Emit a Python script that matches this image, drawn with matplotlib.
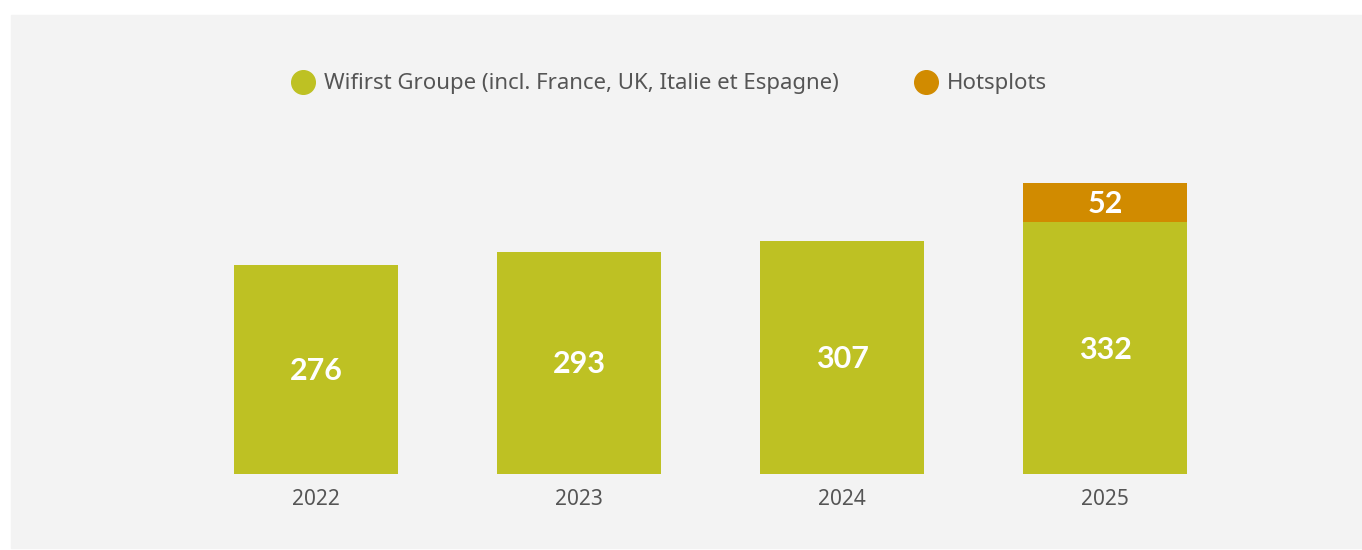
import matplotlib.pyplot as plt
from matplotlib.patches import Rectangle
from matplotlib.lines import Line2D

years = ['2022', '2023', '2024', '2025']
wifirst = [276, 293, 307, 332]
hotsplots = [0, 0, 0, 52]

green = '#bec123'
orange = '#d18b00'
grey_bg = '#f3f3f3'
text_col = '#555555'

plt.rcParams['font.family'] = ['Noto Sans', 'DejaVu Sans']

fig = plt.figure(figsize=(13.62, 5.5), dpi=100, facecolor='white')
# light grey panel behind everything
fig.patches.append(Rectangle((11 / 1362, 2 / 550), 1, 533 / 550,
                             transform=fig.transFigure, color=grey_bg, zorder=-1))

ax = fig.add_axes([184.5 / 1362, 76 / 550, 1052 / 1362, 291 / 550])
ax.set_facecolor('none')

x = range(len(years))
ax.bar(x, wifirst, width=0.627, color=green)
ax.bar(x, hotsplots, width=0.627, bottom=wifirst, color=orange)

for i in x:
    ax.text(i, wifirst[i] / 2 - 2, str(wifirst[i]), ha='center', va='center',
            color='white', fontsize=22, fontweight='bold', family=['Lato', 'DejaVu Sans'])
    if hotsplots[i] > 0:
        ax.text(i, wifirst[i] + hotsplots[i] / 2 - 2, str(hotsplots[i]), ha='center',
                va='center', color='white', fontsize=22, fontweight='bold',
                family=['Lato', 'DejaVu Sans'])

ax.set_xlim(-0.5, 3.5)
ax.set_ylim(0, 384)
ax.set_xticks(list(x))
ax.set_xticklabels(years, fontsize=15, color=text_col)
ax.tick_params(axis='x', length=0, pad=11)
ax.set_yticks([])
for s in ax.spines.values():
    s.set_visible(False)

handles = [
    Line2D([], [], marker='o', linestyle='none', markersize=17, color=green,
           label='Wifirst Groupe (incl. France, UK, Italie et Espagne)'),
    Line2D([], [], marker='o', linestyle='none', markersize=17, color=orange,
           label='Hotsplots'),
]
fig.legend(handles=handles, loc='center', bbox_to_anchor=(669.5 / 1362, 1 - 84 / 550),
           ncol=2, frameon=False, fontsize=16, labelcolor=text_col,
           handletextpad=0.45, columnspacing=3.4, handlelength=1.0)

fig.savefig('out.png', dpi=100, facecolor='white')
